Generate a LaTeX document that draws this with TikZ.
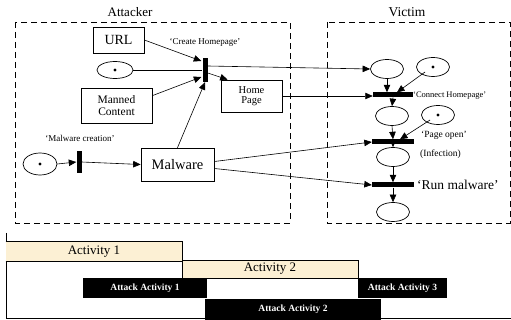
\documentclass[tikz,border=0pt]{standalone}
\usepackage{fontspec}
\setmainfont{Liberation Serif}
\usetikzlibrary{arrows.meta,shapes.geometric,calc}
\definecolor{beige}{RGB}{252,240,212}
\begin{document}
\begin{tikzpicture}[x=1pt,y=-1pt,
  box/.style={draw,line width=0.7pt,inner sep=0pt,align=center},
  pl/.style={draw,ellipse,line width=0.7pt,inner sep=0pt,minimum width=33pt,minimum height=19pt},
  vbar/.style={fill=black,inner sep=0pt,minimum width=5pt},
  hbar/.style={fill=black,inner sep=0pt,minimum height=5pt,minimum width=40pt},
  arr/.style={line width=0.6pt,-{Triangle[length=7.5pt,width=6.5pt]}},
  ln/.style={line width=0.6pt},
  area/.style={draw,dashed,dash pattern=on 6pt off 4pt,line width=0.7pt},
  lab/.style={inner sep=0pt,font=\fontsize{9}{10}\selectfont},
  act/.style={fill=beige,draw,line width=0.6pt,inner sep=0pt,font=\fontsize{13}{14}\selectfont},
  atk/.style={fill=black,text=white,inner sep=0pt,font=\bfseries\fontsize{9.5}{10}\selectfont}]
\useasboundingbox (0,0) rectangle (511,320);
% areas
\draw[area] (15,22) rectangle (290,223);
\draw[area] (327,22) rectangle (510,223);
\node[inner sep=0pt,font=\fontsize{13}{14}\selectfont] (att) at (130,12) {Attacker};
\node[inner sep=0pt,font=\fontsize{13.5}{14}\selectfont] (vic) at (407,12) {Victim};
% attacker nodes
\node[box,minimum width=51pt,minimum height=26pt,font=\fontsize{14}{14}\selectfont] (url) at (118.5,40) {URL};
\node[pl,minimum width=36pt,minimum height=17pt] (tok1) at (115,70) {};
\fill (tok1.center) circle (1.6pt);
\node[box,minimum width=71pt,minimum height=35pt,font=\fontsize{11.5}{11.5}\selectfont] (man) at (116.5,105.5) {Manned\\Content};
\node[box,minimum width=61pt,minimum height=32pt,font=\fontsize{10.5}{10}\selectfont] (hp) at (251.5,96) {Home\\Page};
\node[box,minimum width=73pt,minimum height=33pt,font=\fontsize{14.5}{15}\selectfont] (mal) at (177.5,164.5) {Malware};
\node[pl,minimum width=34pt,minimum height=22pt] (tokmc) at (40,164) {};
\fill (tokmc.center) circle (1.6pt);
\node[vbar,minimum height=22pt] (barmc) at (79,162) {};
\node[vbar,minimum height=24pt] (barch) at (205,70) {};
\node[lab] (lch) at (205,42) {`Create Homepage'};
\node[lab] (lmc) at (80,138) {`Malware creation'};
% victim nodes
\node[pl] (p1) at (387,69) {};
\node[pl] (t1) at (433,67) {};
\fill (t1.center) circle (1.6pt);
\node[hbar] (bconn) at (393,95) {};
\node[pl] (p2) at (392,116) {};
\node[pl] (t2) at (438,115) {};
\fill (t2.center) circle (1.6pt);
\node[hbar,minimum width=42pt] (bpage) at (393,142) {};
\node[pl] (p3) at (393,157) {};
\node[hbar,minimum width=42pt] (brun) at (393,185) {};
\node[pl] (p4) at (393,212) {};
\node[lab,anchor=west,font=\fontsize{8.5}{9}\selectfont] (lconn) at (413,96) {`Connect Homepage'};
\node[lab,anchor=west,font=\fontsize{9.5}{10}\selectfont] (lpage) at (421,135) {`Page open'};
\node[lab,anchor=west,font=\fontsize{9.5}{10}\selectfont] (linf) at (420,154) {(Infection)};
\node[lab,anchor=west,font=\fontsize{13.5}{14}\selectfont] (lrun) at (417,185) {`Run malware'};
% attacker connectors
\draw[arr] (url.east) -- ($(barch.west)+(-1,-9)$);
\draw[ln] (tok1.east) -- (barch.west);
\draw[arr] ($(man.north east)+(0,8)$) -- ($(barch.west)+(-1,7)$);
\draw[arr] (mal.north) -- (barch.south);
\draw[arr] ($(barch.east)+(0,3)$) -- ($(hp.north west)+(7,0)$);
\draw[arr] ($(barch.east)+(0,-4)$) -- (p1.west);
\draw[arr] (tokmc.east) -- (barmc.west);
\draw[arr] (barmc.east) -- (mal.west);
% victim connectors
\draw[arr] (hp.east) -- ($(bconn.west)+(0,1)$);
\draw[arr] (p1.south) -- ($(bconn.north)+(-6,0)$);
\draw[arr] ($(t1.south west)+(4,-2)$) -- ($(bconn.north)+(4,0)$);
\draw[arr] (bconn.south) -- (p2.north);
\draw[arr] (p2.south) -- (bpage.north);
\draw[arr] ($(t2.south west)+(4,-2)$) -- ($(bpage.north)+(7,0)$);
\draw[arr] ($(mal.east)+(0,-3)$) -- (bpage.west);
\draw[arr] ($(mal.east)+(0,4)$) -- (brun.west);
\draw[arr] (bpage.south) -- (p3.north);
\draw[arr] (p3.south) -- (brun.north);
\draw[arr] (brun.south) -- (p4.north);
% timeline
\draw[line width=0.6pt] (6,233) coordinate (ta) -- (6,318) coordinate (tb) -- (511,318) coordinate (tc);
\node[act,minimum width=176pt,minimum height=19pt,draw=none] (a1) at (94,251.5) {Activity 1};
\draw[line width=0.6pt] (a1.north west) -- (a1.north east) -- ($(a1.south east)+(0,17)$);
\draw[line width=0.6pt] (a1.south west) -- (a1.south east);
\node[act,minimum width=176pt,minimum height=18pt] (a2) at (270,269) {Activity 2};
\node[atk,minimum width=124pt,minimum height=20pt] (k1) at (145,288) {Attack Activity 1};
\node[atk,minimum width=89pt,minimum height=20pt] (k3) at (402.5,288) {Attack Activity 3};
\node[atk,minimum width=176pt,minimum height=21pt] (k2) at (293,309.5) {Attack Activity 2};
\end{tikzpicture}
\end{document}
